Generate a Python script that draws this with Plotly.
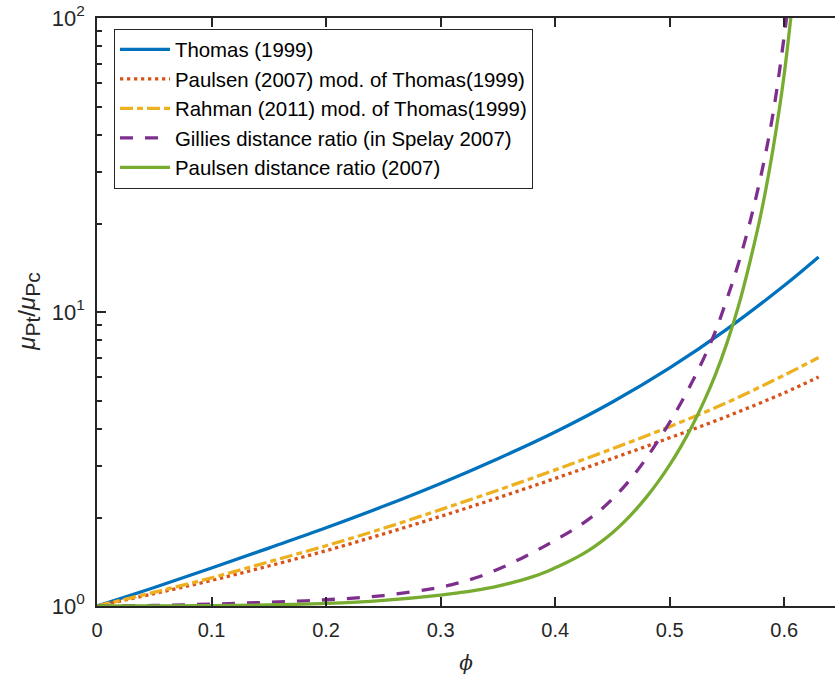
import plotly.graph_objects as go

# ---- data ----
phi_smooth = [0, 0.05, 0.1, 0.15, 0.2, 0.25, 0.3, 0.35, 0.4, 0.45, 0.5, 0.55, 0.6, 0.63]
thomas = [1.0, 1.156, 1.346, 1.574, 1.845, 2.183, 2.612, 3.170, 3.908, 4.943, 6.457, 8.750, 12.30, 15.38]
paulsen_mod = [1.0, 1.102, 1.222, 1.368, 1.542, 1.758, 2.018, 2.333, 2.716, 3.177, 3.733, 4.416, 5.309, 6.01]
rahman_mod = [1.0, 1.114, 1.247, 1.413, 1.603, 1.837, 2.128, 2.477, 2.904, 3.428, 4.074, 4.92, 6.10, 7.00]

phi_steep = [0, 0.05, 0.1, 0.15, 0.2, 0.25, 0.3, 0.31, 0.32, 0.33, 0.34, 0.35, 0.36, 0.37, 0.38, 0.39,
             0.4, 0.41, 0.42, 0.43, 0.44, 0.45, 0.46, 0.47, 0.48, 0.49, 0.5, 0.51, 0.52, 0.53, 0.54,
             0.55, 0.56, 0.57, 0.58, 0.59, 0.6, 0.61]
gillies = [1.0, 1.004, 1.015, 1.03, 1.05, 1.085, 1.159, 1.183, 1.211, 1.245, 1.285, 1.334, 1.387, 1.449,
           1.517, 1.592, 1.675, 1.762, 1.862, 1.982, 2.128, 2.312, 2.541, 2.831, 3.199, 3.656, 4.217,
           4.920, 5.821, 6.998, 8.610, 11.09, 14.62, 20.18, 29.51, 46.77, 87.10, 182.0]
paulsen_d = [1.0, 1.0005, 1.003, 1.009, 1.02, 1.045, 1.089, 1.102, 1.114, 1.130, 1.148, 1.169, 1.194,
             1.222, 1.256, 1.297, 1.349, 1.406, 1.472, 1.552, 1.652, 1.774, 1.928, 2.118, 2.355, 2.649,
             3.020, 3.499, 4.130, 4.977, 6.138, 7.852, 10.47, 14.79, 21.88, 35.48, 64.57, 144.5]

names = ["Thomas (1999)",
         "Paulsen (2007) mod. of Thomas(1999)",
         "Rahman (2011) mod. of Thomas(1999)",
         "Gillies distance ratio (in Spelay 2007)",
         "Paulsen distance ratio (2007)"]

x_ticks = [0, 0.1, 0.2, 0.3, 0.4, 0.5, 0.6]
x_ticktext = ["0", "0.1", "0.2", "0.3", "0.4", "0.5", "0.6"]
y_ticks = [1, 10, 100]
y_ticktext = ["10<sup>0</sup>", "10<sup>1</sup>", "10<sup>2</sup>"]
y_minor = [2, 3, 4, 5, 6, 7, 8, 9, 20, 30, 40, 50, 60, 70, 80, 90]

FONT = "Liberation Sans, Arial, sans-serif"
AX = "#262626"
LW = 3.3

fig = go.Figure()
fig.add_trace(go.Scatter(x=phi_smooth, y=thomas, mode="lines", name=names[0],
                         line=dict(color="#0072BD", width=LW, shape="spline")))
fig.add_trace(go.Scatter(x=phi_smooth, y=paulsen_mod, mode="lines", name=names[1],
                         line=dict(color="#D95319", width=LW, dash="3.3px,3.7px", shape="spline")))
fig.add_trace(go.Scatter(x=phi_smooth, y=rahman_mod, mode="lines", name=names[2],
                         line=dict(color="#EDB120", width=LW, dash="13px,4px,6px,4px", shape="spline")))
fig.add_trace(go.Scatter(x=phi_steep, y=gillies, mode="lines", name=names[3],
                         line=dict(color="#7E2F8E", width=LW, dash="13px,12px", shape="spline")))
fig.add_trace(go.Scatter(x=phi_steep, y=paulsen_d, mode="lines", name=names[4],
                         line=dict(color="#77AC30", width=LW, shape="spline")))

fig.update_layout(
    width=835, height=686,
    margin=dict(l=97, r=0, t=18, b=80),
    paper_bgcolor="white", plot_bgcolor="white",
    font=dict(family=FONT, size=20, color=AX),
    showlegend=True,
    legend=dict(x=0.023, y=0.982, xanchor="left", yanchor="top",
                bgcolor="white", bordercolor=AX, borderwidth=1,
                font=dict(family=FONT, size=20.4, color="black"),
                itemwidth=50, tracegroupgap=0),
    annotations=[dict(
        text="<i>μ</i><sub><span style=\"font-size:21px\">Pt</span></sub>/"
             "<i>μ</i><sub><span style=\"font-size:21px\">Pc</span></sub>",
        xref="paper", yref="paper", x=-0.094, y=0.5, xanchor="center", yanchor="middle",
        textangle=-90, showarrow=False, font=dict(family=FONT, size=24, color=AX))],
)
fig.update_xaxes(
    range=[0, 0.6443], tickmode="array", tickvals=x_ticks, ticktext=x_ticktext,
    ticks="inside", ticklen=9, tickwidth=1.5, tickcolor=AX,
    showline=True, linecolor=AX, linewidth=1.5, mirror="ticks",
    showgrid=False, zeroline=False, ticklabelstandoff=5,
    tickfont=dict(family=FONT, size=20, color=AX),
    title=dict(text="<i>ϕ</i>", font=dict(family="DejaVu Serif, serif", size=20, color=AX), standoff=16),
)
fig.update_yaxes(
    type="log", range=[0, 2], tickmode="array", tickvals=y_ticks, ticktext=y_ticktext,
    ticks="inside", ticklen=9, tickwidth=1.5, tickcolor=AX,
    minor=dict(tickmode="array", tickvals=y_minor, ticks="inside", ticklen=5,
               tickwidth=1.5, tickcolor=AX, showgrid=False),
    showline=True, linecolor=AX, linewidth=1.5, mirror=False,
    showgrid=False, zeroline=False, ticklabelstandoff=6,
    tickfont=dict(family=FONT, size=22, color=AX),
)

fig.write_html("out.html")
